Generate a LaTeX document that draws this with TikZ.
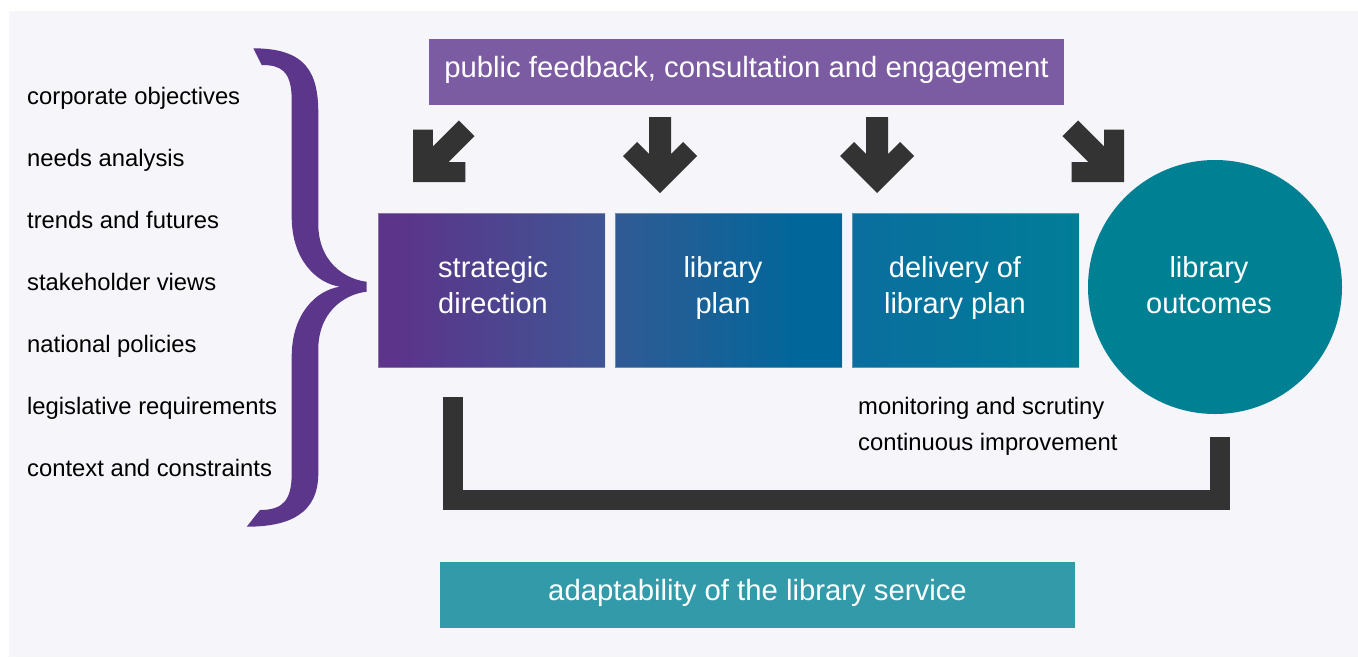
\documentclass[tikz,border=0pt]{standalone}
\usepackage{fontspec}
\setmainfont{Liberation Sans}
\definecolor{bgpanel}{HTML}{F5F5FA}
\definecolor{topcol}{HTML}{7B5BA1}
\definecolor{bracecol}{HTML}{5B368A}
\definecolor{darkcol}{HTML}{333333}
\definecolor{c1a}{HTML}{5C348A}
\definecolor{c1b}{HTML}{3F5594}
\definecolor{c2a}{HTML}{315A94}
\definecolor{c2b}{HTML}{00679A}
\definecolor{c3a}{HTML}{0A6E9E}
\definecolor{c3b}{HTML}{017D98}
\definecolor{circcol}{HTML}{008093}
\definecolor{botcol}{HTML}{339AAA}
\pgfdeclarehorizontalshading{shadeone}{100bp}{color(0bp)=(c1a); color(29bp)=(c1a); color(75bp)=(c1b); color(100bp)=(c1b)}
\pgfdeclarehorizontalshading{shadetwo}{100bp}{color(0bp)=(c2a); color(25bp)=(c2a); color(66bp)=(c2b); color(100bp)=(c2b)}
\pgfdeclarehorizontalshading{shadethree}{100bp}{color(0bp)=(c3a); color(25bp)=(c3a); color(75bp)=(c3b); color(100bp)=(c3b)}
\tikzset{
  stagebox/.style={rectangle, minimum width=227, minimum height=154, inner sep=0,
    draw=white, draw opacity=0.3, line width=0.8},
  stagetext/.style={inner sep=0, align=center, text=white,
    font=\fontsize{29}{36}\selectfont, text height=56, text depth=10},
  bandbox/.style={rectangle, minimum width=635, minimum height=66, inner sep=0,
    text=white, font=\fontsize{29.3}{36}\selectfont, text height=17, text depth=7},
  listtext/.style={anchor=base west, inner sep=0, text=black, font=\fontsize{23.8}{28}\selectfont},
  pics/blockarrow/.style={code={\fill[darkcol] (0,0) -- (37,-37) -- (23,-51) -- (11,-39) -- (11,-76)
      -- (-11,-76) -- (-11,-39) -- (-23,-51) -- (-37,-37) -- cycle;}}
}
\begin{document}
\begin{tikzpicture}[x=1pt,y=-1pt]
\useasboundingbox (0,0) rectangle (1358,657);
\fill[white] (0,0) rectangle (1358,657);
\fill[bgpanel] (9,11) rectangle (1358,657);

% brace
\fill[bracecol] (253.3,48.3) .. controls (306.7,48.3) and (318.3,73.3) .. (318.3,113.3)
  -- (318.3,226.7) .. controls (320,266.7) and (350,280) .. (366.7,281.7)
  -- (366.7,291.7) .. controls (350,293.3) and (320,306.7) .. (318.3,346.7)
  -- (318.3,473.3) .. controls (318.3,513.3) and (290,526.7) .. (246.7,526.7)
  -- (260,510) .. controls (283.3,510) and (291.7,500) .. (291.7,473.3)
  -- (291.7,356.7) .. controls (291.7,313.3) and (316.7,290) .. (340,286.7)
  .. controls (316.7,283.3) and (291.7,260) .. (291.7,216.7)
  -- (291.7,100) .. controls (291.7,70) and (280,65) .. (261.7,65) -- cycle;

% list
\node[listtext] (l1) at (27,104) {corporate objectives};
\node[listtext] (l2) at (27,166) {needs analysis};
\node[listtext] (l3) at (27,228) {trends and futures};
\node[listtext] (l4) at (27,290) {stakeholder views};
\node[listtext] (l5) at (27,352) {national policies};
\node[listtext] (l6) at (27,414) {legislative requirements};
\node[listtext] (l7) at (27,476) {context and constraints};

% top and bottom bands
\node[bandbox, fill=topcol] (feedback) at (746.5,72) {public feedback, consultation and engagement};
\node[bandbox, fill=botcol] (adapt) at (757.5,595) {adaptability of the library service};

% arrows
\pic[rotate=-45] at (413,182) {blockarrow};
\pic at (660,193) {blockarrow};
\pic at (877,193) {blockarrow};
\pic[rotate=45] at (1124,182) {blockarrow};

% stages
\node[stagebox, shade, shading=shadeone] (strat) at (491.5,290) {};
\node[stagebox, shade, shading=shadetwo] (plan) at (728.5,290) {};
\node[stagebox, shade, shading=shadethree] (deliv) at (965.5,290) {};
\node[circle, fill=circcol, minimum size=254, inner sep=0] (outc) at (1215,287) {};

\node[stagetext] (strattext) at (493,290) {strategic\\direction};
\node[stagetext] (plantext) at (723,290) {library\\plan};
\node[stagetext] (delivtext) at (955,290) {delivery of\\library plan};
\node[stagetext, text height=59, text depth=7] (outctext) at (1209,287) {library\\outcomes};

% feedback bracket
\coordinate (brL) at (453,397);
\coordinate (brR) at (1220,437);
\draw[darkcol, line width=20] (brL) -- ++(0,103) -| (brR);

\node[listtext] (mon) at (858,414) {monitoring and scrutiny};
\node[listtext] (cont) at (858,450) {continuous improvement};
\end{tikzpicture}
\end{document}
